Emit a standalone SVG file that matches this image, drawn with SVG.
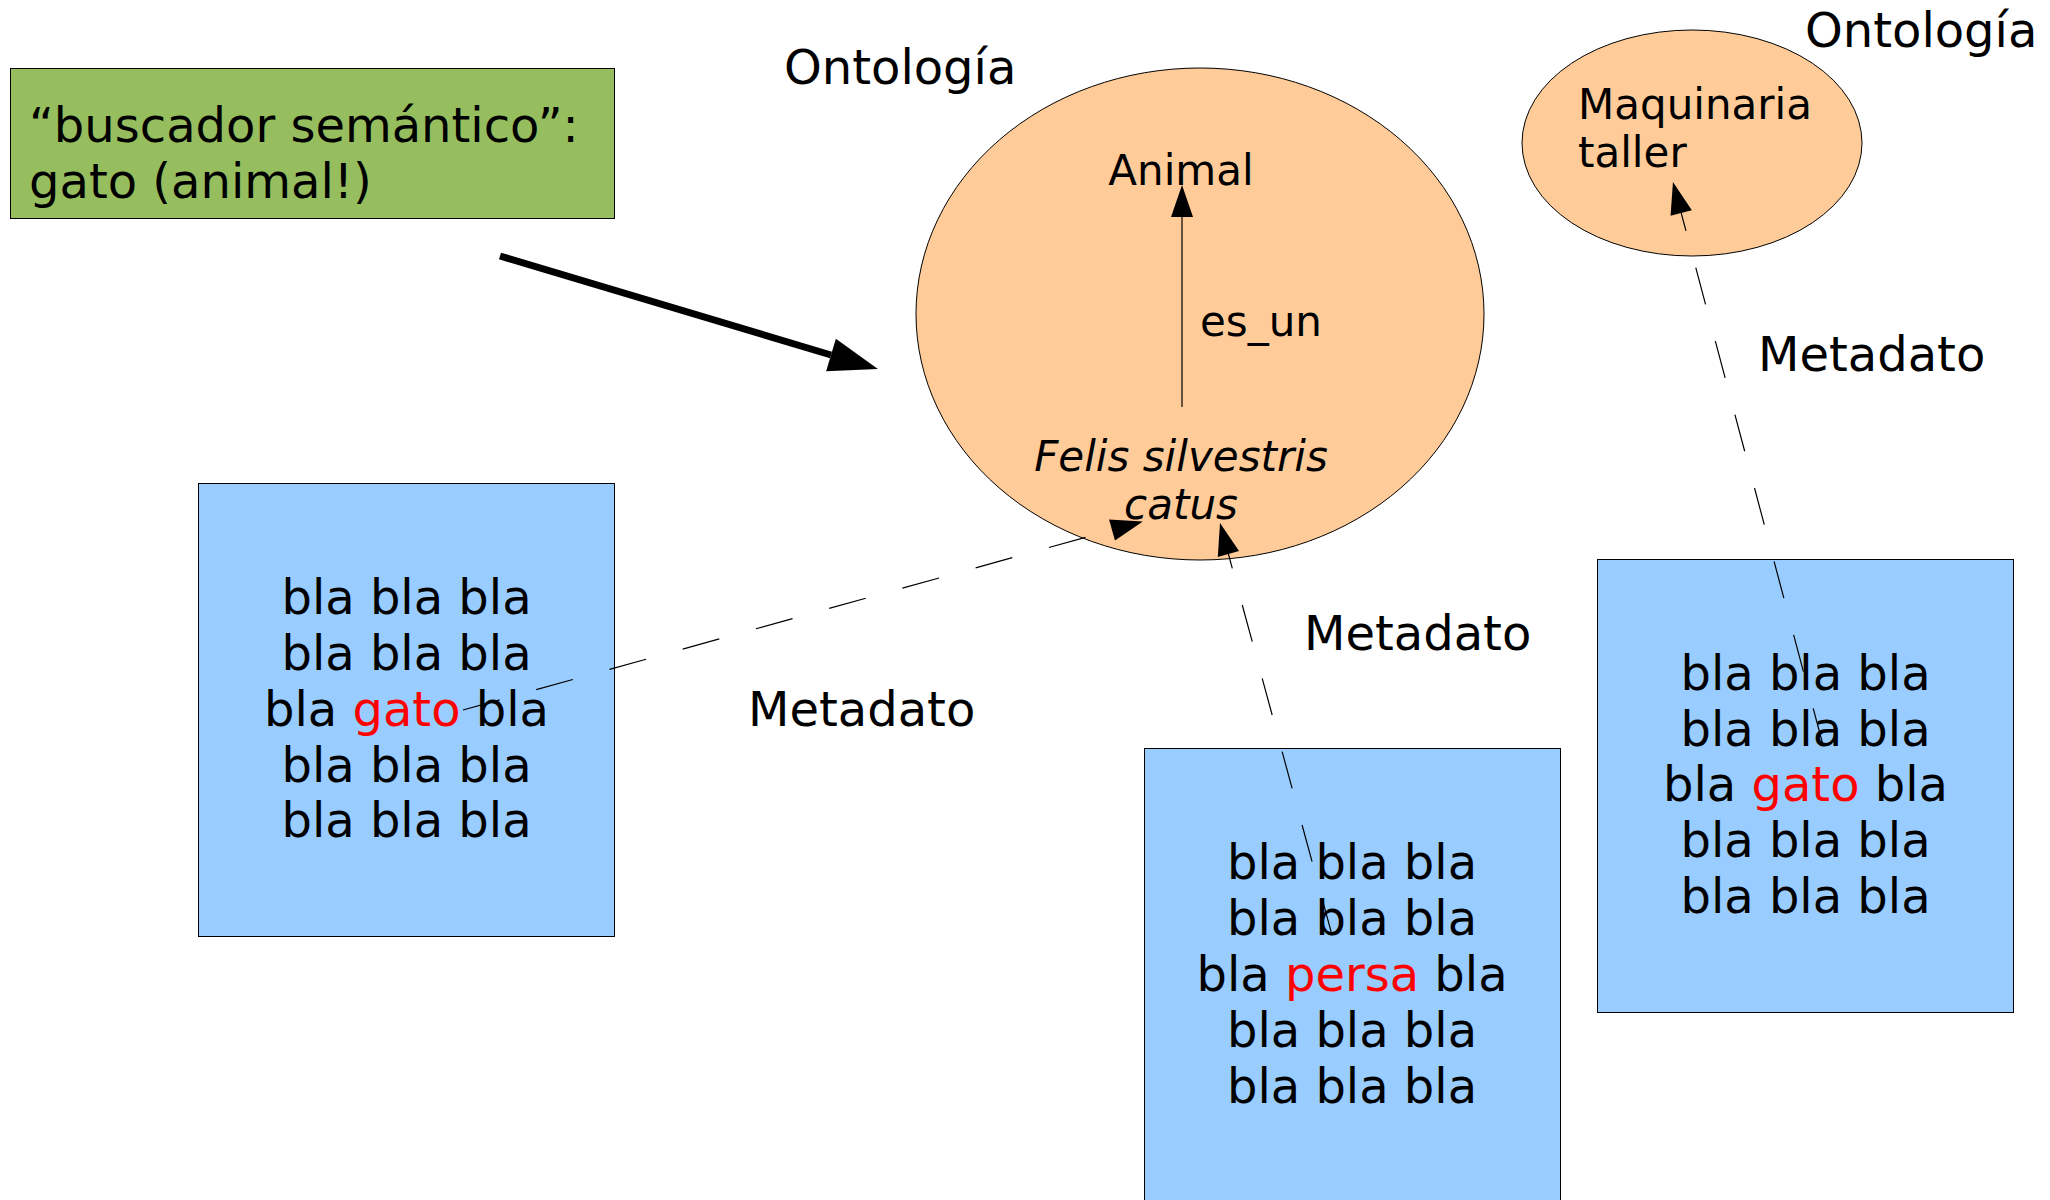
<svg xmlns="http://www.w3.org/2000/svg" width="2050" height="1200" viewBox="0 0 2050 1200">
  <style>
    text { font-family: "DejaVu Sans", "Liberation Sans", sans-serif; fill: #000; }
    .t48 { font-size: 48px; }
    .t42 { font-size: 42px; }
    .mid { text-anchor: middle; }
    .it { font-style: italic; }
    .red { fill: #ff0000; }
    .doc { fill: #99ccff; stroke: #000; stroke-width: 1; }
    .onto { fill: #ffcc99; stroke: #000; stroke-width: 1; }
    .query { fill: #96be5e; stroke: #000; stroke-width: 1; }
    .meta { fill: none; stroke: #000; stroke-width: 1.2; stroke-dasharray: 38 38; marker-end: url(#head); }
    .rel { fill: none; stroke: #000; stroke-width: 1.2; marker-end: url(#head); }
    .go { fill: none; stroke: #000; stroke-width: 7; marker-end: url(#bighead); }
  </style>
  <defs>
    <marker id="head" markerUnits="userSpaceOnUse" markerWidth="34" markerHeight="24" refX="0" refY="11" orient="auto" overflow="visible">
      <path d="M0,0 L32,11 L0,22 z" fill="#000"/>
    </marker>
    <marker id="bighead" markerUnits="userSpaceOnUse" markerWidth="52" markerHeight="36" refX="0" refY="17" orient="auto" overflow="visible">
      <path d="M0,0 L49,17 L0,34 z" fill="#000"/>
    </marker>
  </defs>

  <rect width="2050" height="1200" fill="#fff"/>

  <!-- search query -->
  <g id="query">
    <rect class="query" x="10.5" y="68.5" width="604" height="150"/>
    <text class="t48" x="29" y="142">“buscador semántico”:</text>
    <text class="t48" x="29" y="198">gato (animal!)</text>
  </g>

  <!-- animal ontology -->
  <g id="ontologia-animal">
    <ellipse class="onto" cx="1200" cy="314" rx="284" ry="246"/>
    <text class="t48" x="784" y="84">Ontología</text>
    <text class="t42 mid" x="1181" y="185">Animal</text>
    <text class="t42 it mid" x="1181" y="471">Felis silvestris</text>
    <text class="t42 it mid" x="1181" y="519">catus</text>
  </g>

  <!-- machinery ontology -->
  <g id="ontologia-maquinaria">
    <ellipse class="onto" cx="1692" cy="143" rx="170" ry="113"/>
    <text class="t48" x="1805" y="47">Ontología</text>
    <text class="t42" x="1578" y="119">Maquinaria</text>
    <text class="t42" x="1578" y="167">taller</text>
  </g>

  <!-- documents -->
  <g id="doc-gato-1">
    <rect class="doc" x="198.5" y="483.5" width="416" height="453"/>
    <text class="t48 mid" x="406.5" y="614">bla bla bla</text>
    <text class="t48 mid" x="406.5" y="670">bla bla bla</text>
    <text class="t48 mid" x="406.5" y="726">bla <tspan class="red">gato</tspan> bla</text>
    <text class="t48 mid" x="406.5" y="782">bla bla bla</text>
    <text class="t48 mid" x="406.5" y="837">bla bla bla</text>
  </g>

  <g id="doc-persa">
    <rect class="doc" x="1144.5" y="748.5" width="416" height="470"/>
    <text class="t48 mid" x="1352" y="879">bla bla bla</text>
    <text class="t48 mid" x="1352" y="935">bla bla bla</text>
    <text class="t48 mid" x="1352" y="991">bla <tspan class="red">persa</tspan> bla</text>
    <text class="t48 mid" x="1352" y="1047">bla bla bla</text>
    <text class="t48 mid" x="1352" y="1103">bla bla bla</text>
  </g>

  <g id="doc-gato-2">
    <rect class="doc" x="1597.5" y="559.5" width="416" height="453"/>
    <text class="t48 mid" x="1805.5" y="690">bla bla bla</text>
    <text class="t48 mid" x="1805.5" y="746">bla bla bla</text>
    <text class="t48 mid" x="1805.5" y="801">bla <tspan class="red">gato</tspan> bla</text>
    <text class="t48 mid" x="1805.5" y="857">bla bla bla</text>
    <text class="t48 mid" x="1805.5" y="913">bla bla bla</text>
  </g>

  <!-- connectors -->
  <g id="connectors">
    <line class="go" x1="500" y1="256" x2="831" y2="355"/>
    <line class="rel" x1="1182" y1="407" x2="1182" y2="217"/>
    <line class="meta" x1="463" y1="710" x2="1112" y2="530"/>
    <line class="meta" x1="1332" y1="935" x2="1228.4" y2="554"/>
    <line class="meta" x1="1823" y1="745" x2="1681.2" y2="213"/>
    <text class="t42" x="1200" y="336">es_un</text>
    <text class="t48" x="748" y="726">Metadato</text>
    <text class="t48" x="1304" y="650">Metadato</text>
    <text class="t48" x="1758" y="371">Metadato</text>
  </g>
</svg>
